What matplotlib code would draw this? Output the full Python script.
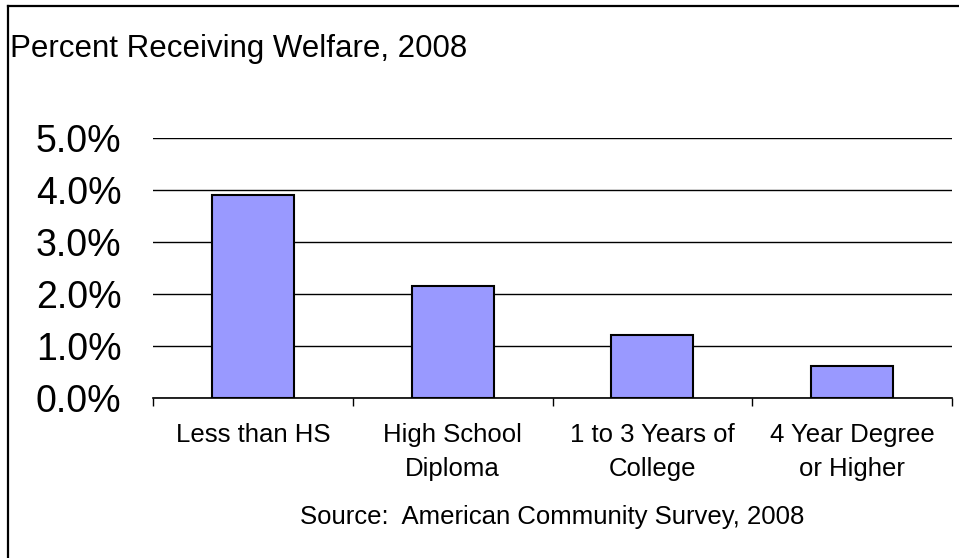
# Percent receiving welfare by education level, 2008 (ACS)
import matplotlib
matplotlib.use('Agg')
import matplotlib.pyplot as plt
from matplotlib.lines import Line2D
from matplotlib.ticker import FuncFormatter

# *=*=* Data *=*=*
categories = ['Less than HS', 'High School\nDiploma', '1 to 3 Years of\nCollege', '4 Year Degree\nor Higher']
pct_welfare = [3.91, 2.15, 1.22, 0.61]
y_ticks = [0, 1, 2, 3, 4, 5]

plt.rcParams['font.family'] = ['Liberation Sans', 'DejaVu Sans']

W, H = 959, 558
fig = plt.figure(figsize=(W / 100, H / 100), dpi=100)
ax = fig.add_axes([153.3 / W, 1 - 398 / H, (951.7 - 153.3) / W, (398 - 138) / H])

x = list(range(len(categories)))
ax.bar(x, pct_welfare, width=0.41, color='#9999FF', edgecolor='black', linewidth=1.5, zorder=3)

# y axis: gridlines only, no spine
ax.set_ylim(0, 5)
ax.set_yticks(y_ticks)
ax.yaxis.set_major_formatter(FuncFormatter(lambda v, p: '%.1f%%' % v))
ax.tick_params(axis='y', length=0, pad=23, labelsize=27)
ax.grid(axis='y', color='black', linewidth=1, zorder=0)

# x axis: labels at centres, ticks at category boundaries
ax.set_xlim(-0.5, len(categories) - 0.5)
ax.set_xticks(x)
ax.set_xticklabels(categories, fontsize=18.5, linespacing=1.52)
ax.tick_params(axis='x', length=0, pad=18)
ax.set_xticks([i - 0.5 for i in range(len(categories) + 1)], minor=True)
ax.tick_params(axis='x', which='minor', direction='out', length=6, width=1, color='black')

for side in ['left', 'right', 'top']:
    ax.spines[side].set_visible(False)
ax.spines['bottom'].set_color('black')
ax.spines['bottom'].set_linewidth(1.2)
ax.spines['bottom'].set_zorder(4)

# title and source note
fig.text(10.5 / W, 1 - 57 / H, 'Percent Receiving Welfare, 2008', fontsize=22.5, ha='left', va='baseline')
fig.text(552.5 / W, 1 - 524 / H, 'Source:  American Community Survey, 2008', fontsize=18.5,
         ha='center', va='baseline')

# outer frame (left and top edges only, as in the cropped original)
fig.add_artist(Line2D([8 / W, 8 / W], [0, 1 - 6 / H], color='black', linewidth=1.6, transform=fig.transFigure))
fig.add_artist(Line2D([8 / W, 1], [1 - 6 / H, 1 - 6 / H], color='black', linewidth=1.6, transform=fig.transFigure))

fig.savefig('out.png', dpi=100)
